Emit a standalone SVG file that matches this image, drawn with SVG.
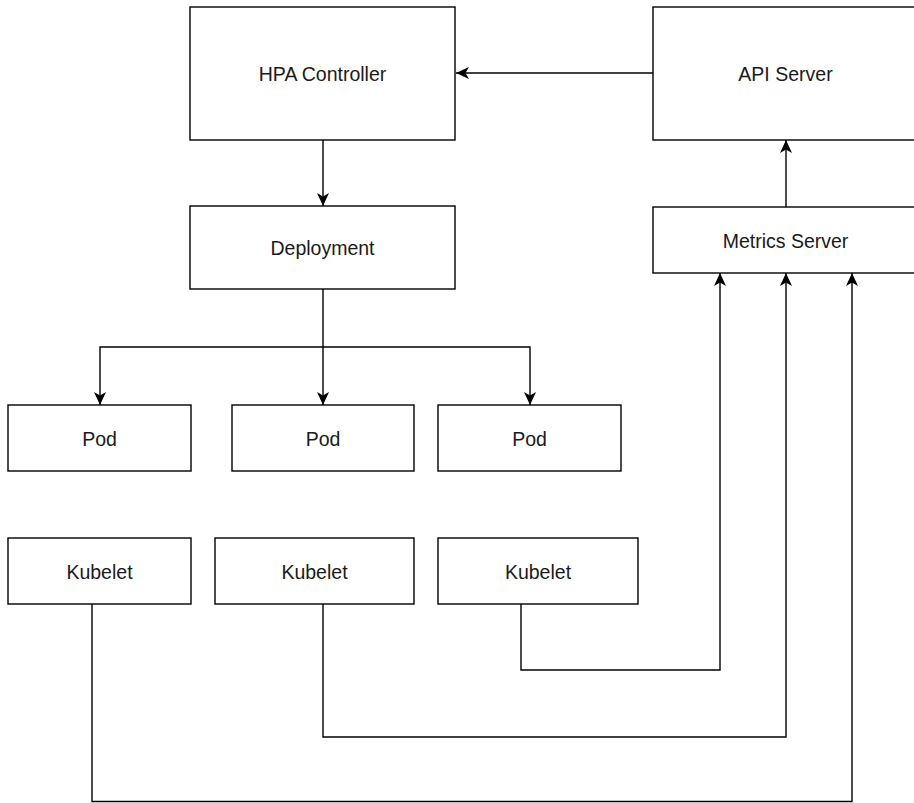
<svg xmlns="http://www.w3.org/2000/svg" width="914" height="803" viewBox="0 0 914 803">
<style>
.box{fill:#fff;stroke:#000;stroke-width:1.4}
.lbl{font-family:"Liberation Sans",Arial,sans-serif;font-size:19.5px;fill:#1a1a1a;text-anchor:middle;dominant-baseline:central}
.edge{fill:none;stroke:#000;stroke-width:1.4;marker-end:url(#arr)}
</style>
<defs>
<marker id="arr" markerUnits="userSpaceOnUse" markerWidth="14" markerHeight="14" refX="13" refY="6.5" orient="auto">
<path d="M0,0.5 L13,6.5 L0,12.5 L3.5,6.5 Z" fill="#000"/>
</marker>
</defs>
<rect width="914" height="803" fill="#fff"/>
<g id="connectors">
<path class="edge" d="M653,73 L456,73"/>
<path class="edge" d="M323,140 L323,206"/>
<path class="edge" d="M323,289 L323,347 L100,347 L100,405"/>
<path class="edge" d="M323,347 L323,405"/>
<path class="edge" d="M323,347 L530,347 L530,405"/>
<path class="edge" d="M786,207 L786,140"/>
<path class="edge" d="M521,604 L521,670 L720,670 L720,273"/>
<path class="edge" d="M323,604 L323,737 L786,737 L786,273"/>
<path class="edge" d="M92,604 L92,801.5 L852,801.5 L852,273"/>
</g>
<g id="hpa"><rect class="box" x="190" y="7" width="265" height="133"/><text class="lbl" x="322.5" y="74">HPA Controller</text></g>
<g id="api"><rect class="box" x="653" y="7" width="265" height="133"/><text class="lbl" x="785.5" y="74">API Server</text></g>
<g id="deployment"><rect class="box" x="190" y="206" width="265" height="83"/><text class="lbl" x="322.5" y="248">Deployment</text></g>
<g id="metrics"><rect class="box" x="653" y="207" width="265" height="66"/><text class="lbl" x="785.5" y="241">Metrics Server</text></g>
<g id="pod1"><rect class="box" x="8" y="405" width="183" height="66"/><text class="lbl" x="99.5" y="439">Pod</text></g>
<g id="pod2"><rect class="box" x="232" y="405" width="182" height="66"/><text class="lbl" x="323" y="439">Pod</text></g>
<g id="pod3"><rect class="box" x="438" y="405" width="183" height="66"/><text class="lbl" x="529.5" y="439">Pod</text></g>
<g id="kubelet1"><rect class="box" x="8" y="538" width="183" height="66"/><text class="lbl" x="99.5" y="572">Kubelet</text></g>
<g id="kubelet2"><rect class="box" x="215" y="538" width="199" height="66"/><text class="lbl" x="314.5" y="572">Kubelet</text></g>
<g id="kubelet3"><rect class="box" x="438" y="538" width="200" height="66"/><text class="lbl" x="538" y="572">Kubelet</text></g>
</svg>
